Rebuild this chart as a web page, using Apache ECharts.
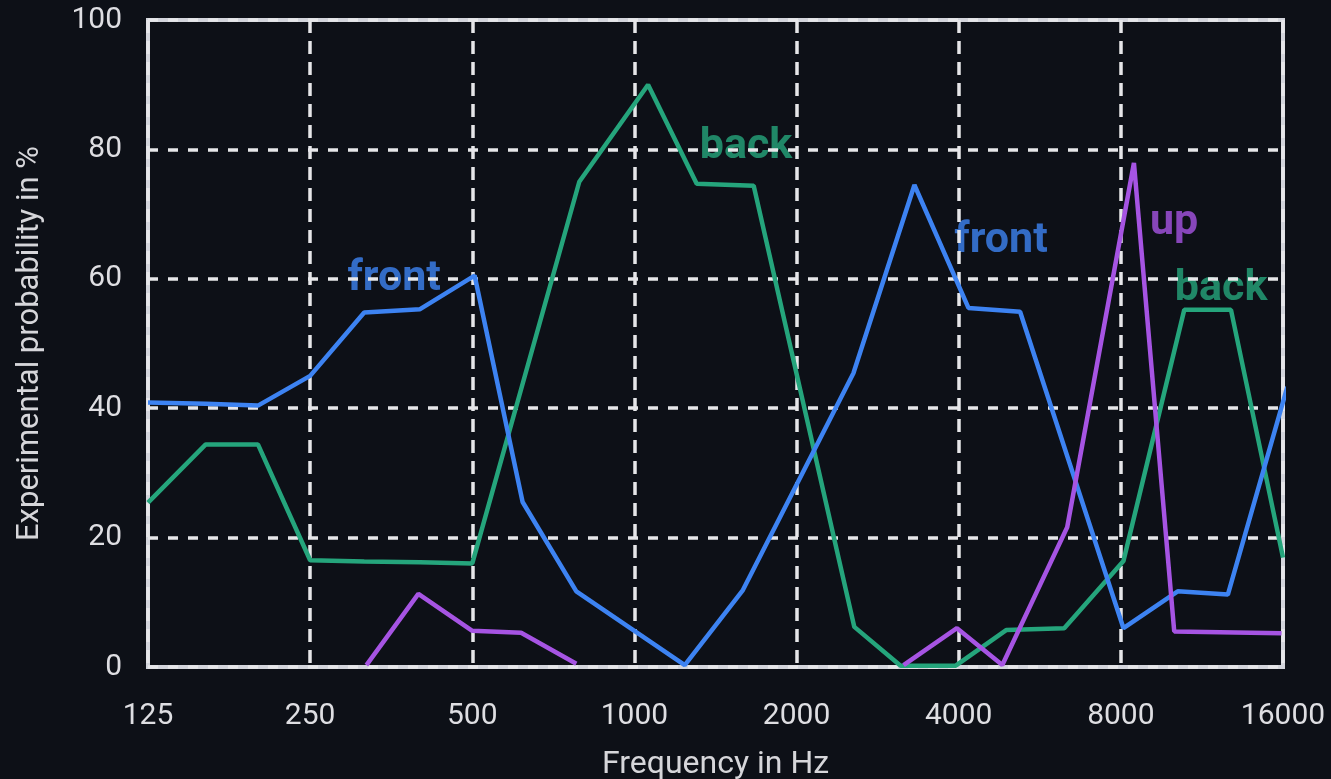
<!DOCTYPE html>
<html>
<head>
<meta charset="utf-8">
<script src="https://cdn.jsdelivr.net/npm/echarts@6/dist/echarts.min.js"></script>
<style>
html,body{margin:0;padding:0;background:#0d1017;}
#chart{width:1331px;height:779px;}
</style>
</head>
<body>
<div id="chart"></div>
<script>
// Frequency tick labels (Hz), one per octave
var freqTicks = [125, 250, 500, 1000, 2000, 4000, 8000, 16000];
var yTicks = [0, 20, 40, 60, 80, 100];

// "front" series: frequency (Hz) and experimental probability (%)
var frontFreq = [125, 160, 200, 250, 315, 400, 505, 620, 780, 1240, 1590, 2550, 3310, 4170, 5200, 8090, 10200, 12640, 16300];
var frontVal  = [40.9, 40.7, 40.4, 45.0, 54.8, 55.3, 60.5, 25.5, 11.7, 0.3, 11.9, 45.4, 74.5, 55.5, 54.9, 6.0, 11.7, 11.2, 43.3];

// "back" series
var backFreq = [125, 160, 200, 250, 315, 400, 500, 790, 1060, 1305, 1665, 2560, 3120, 3950, 4900, 6280, 8090, 10490, 12810, 16000];
var backVal  = [25.4, 34.4, 34.4, 16.5, 16.3, 16.2, 16.0, 75.0, 90.0, 74.7, 74.4, 6.2, 0.2, 0.2, 5.7, 6.0, 16.4, 55.2, 55.2, 16.9];

// "up" series (null = no data drawn)
var upFreq = [318, 397, 500, 616, 780, 1500, 3160, 3970, 4820, 6360, 8460, 10050, 15900];
var upVal  = [0.3, 11.3, 5.6, 5.3, 0.5, null, 0.3, 6.0, 0.3, 21.6, 77.9, 5.5, 5.2];

// In-plot text annotations: text, frequency (Hz), probability (%)
var annoText = ['front', 'back', 'front', 'up', 'back'];
var annoFreq = [358, 1611, 4794, 10041, 12278];
var annoVal  = [59.9, 80.4, 65.8, 68.6, 58.4];
var annoColor = ['#3d83f2', '#25a57c', '#3d83f2', '#a654e3', '#25a57c'];

var BASE = 125;
function oct(f){ return Math.log2(f / BASE); }
function pairs(fs, vs){ return fs.map(function(f,i){ return [oct(f), vs[i]]; }); }

var chart = echarts.init(document.getElementById('chart'));
var fontFam = 'Roboto, "Noto Sans", sans-serif';
var gridColor = '#e6e6e9';

chart.setOption({
  backgroundColor: '#0d1017',
  animation: false,
  grid: {
    left: 148, right: 48, top: 20, bottom: 112,
    outerBoundsMode: 'none', containLabel: false,
    show: true, borderColor: '#d3d5dc', borderWidth: 4,
    backgroundColor: 'transparent'
  },
  xAxis: {
    type: 'value',
    min: 0, max: freqTicks.length - 1, interval: 1,
    name: 'Frequency in Hz',
    nameLocation: 'middle', nameGap: 82,
    nameTextStyle: { color: '#d6d6da', fontSize: 32, fontFamily: fontFam },
    axisLine: { show: false },
    axisTick: { show: false },
    axisLabel: {
      color: '#dedee2', fontSize: 30, fontFamily: fontFam, margin: 34,
      formatter: function(v){ return String(freqTicks[Math.round(v)]); }
    },
    splitLine: { show: true, lineStyle: { color: gridColor, width: 3.5, type: [13, 8] } }
  },
  yAxis: {
    type: 'value',
    min: yTicks[0], max: yTicks[yTicks.length - 1], interval: 20,
    name: 'Experimental probability in %',
    nameLocation: 'middle', nameGap: 102,
    nameTextStyle: { color: '#d6d6da', fontSize: 31, fontFamily: fontFam },
    axisLine: { show: false },
    axisTick: { show: false },
    axisLabel: { color: '#dedee2', fontSize: 30, fontFamily: fontFam, margin: 26 },
    splitLine: { show: true, lineStyle: { color: gridColor, width: 3.5, type: [10, 10] } }
  },
  series: [
    {
      name: 'labels', type: 'scatter', z: -1, silent: true,
      symbolSize: 1, itemStyle: { color: 'rgba(0,0,0,0)' },
      data: annoText.map(function(t, i){
        return {
          value: [oct(annoFreq[i]), annoVal[i]],
          label: {
            show: true, position: 'inside', formatter: t,
            color: annoColor[i], fontSize: 43, fontWeight: 'bold', fontFamily: fontFam
          }
        };
      })
    },
    {
      name: 'back', type: 'line', data: pairs(backFreq, backVal),
      showSymbol: false, lineStyle: { color: '#25a57c', width: 4.5 }, itemStyle: { color: '#25a57c' }
    },
    {
      name: 'front', type: 'line', data: pairs(frontFreq, frontVal),
      showSymbol: false, lineStyle: { color: '#3d83f2', width: 4.5 }, itemStyle: { color: '#3d83f2' }
    },
    {
      name: 'up', type: 'line', data: pairs(upFreq, upVal), connectNulls: false,
      showSymbol: false, lineStyle: { color: '#a654e3', width: 4.5 }, itemStyle: { color: '#a654e3' }
    }
  ]
});
</script>
</body>
</html>
